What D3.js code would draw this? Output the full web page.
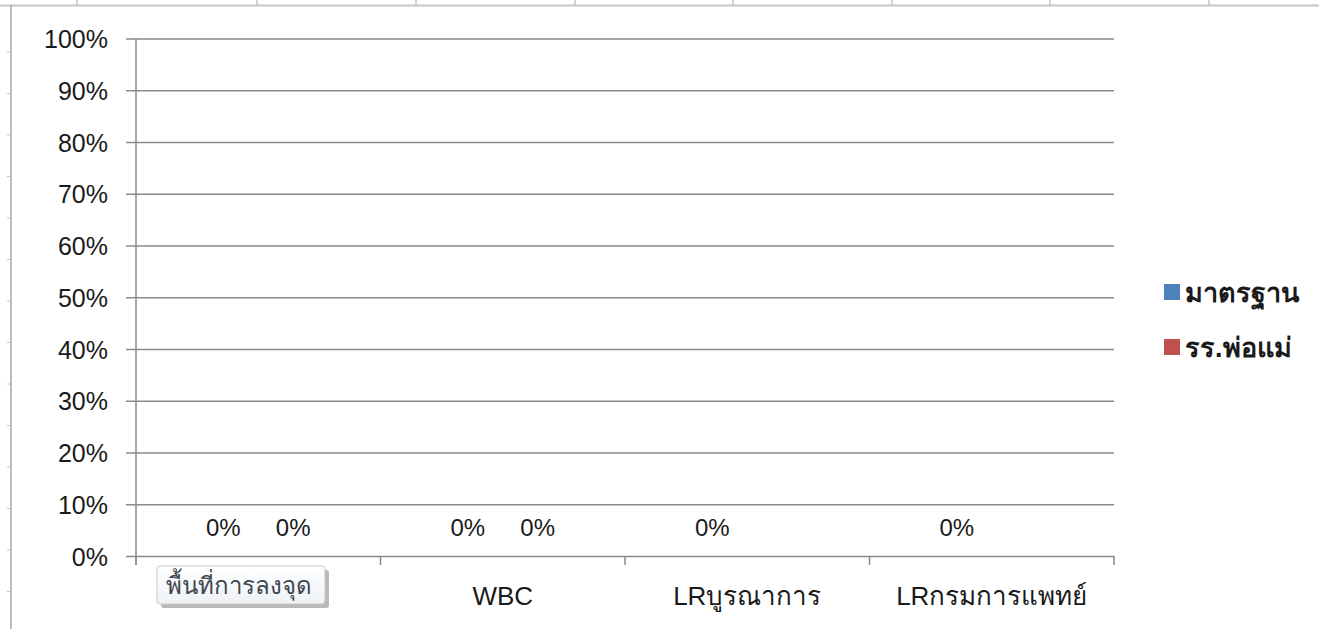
<!DOCTYPE html>
<html>
<head>
<meta charset="utf-8">
<script src="https://cdn.jsdelivr.net/npm/d3@7"></script>
<style>
  html, body { margin: 0; padding: 0; background: #ffffff; }
  svg { display: block; }
  text { font-family: "Liberation Sans", "Noto Sans", sans-serif; fill: #1a1a1a; }
</style>
</head>
<body>
<svg id="chart" width="1319" height="629"></svg>
<script>
// Categories (the first one sits under the hover tip)
const categories = ["", "WBC", "LRบูรณาการ", "LRกรมการแพทย์"];
const seriesNames = ["มาตรฐาน", "รร.พ่อแม่"];
const seriesColors = ["#4F81BD", "#C0504D"];
// Share of each category, per series (null = no value)
const standardValues = [0, 0, 0, 0];
const parentSchoolValues = [0, 0, null, null];
const yTickValues = [0, 0.1, 0.2, 0.3, 0.4, 0.5, 0.6, 0.7, 0.8, 0.9, 1.0];
const hoverTipText = "พื้นที่การลงจุด";

const seriesValues = [standardValues, parentSchoolValues];

const svg = d3.select("#chart");
const W = 1319, H = 629;

// Worksheet cell lines around the embedded chart
const sheet = svg.append("g").attr("stroke", "#c6c6c6").attr("stroke-width", 1.5);
sheet.append("line").attr("x1", 0).attr("x2", W).attr("y1", 5.5).attr("y2", 5.5).attr("stroke-width", 2);
[77, 257, 416, 575, 733, 892, 1050, 1209].forEach(x =>
  sheet.append("line").attr("x1", x).attr("x2", x).attr("y1", 0).attr("y2", 5));
d3.range(14).forEach(i => {
  const y = 52 + i * 41.5;
  sheet.append("line").attr("x1", 7).attr("x2", 10).attr("y1", y).attr("y2", y).attr("stroke-width", 1);
});
// chart frame edge
svg.append("line").attr("x1", 11).attr("x2", 11).attr("y1", 5).attr("y2", H)
  .attr("stroke", "#a6a6a6").attr("stroke-width", 1.5);

// Plot area
const plot = { left: 136, right: 1114, top: 38.5, bottom: 556 };

const x = d3.scaleBand().domain(d3.range(categories.length))
  .range([plot.left, plot.right]).paddingInner(0).paddingOuter(0);
// gap width 150%: bars occupy 2/3.5 of each category
const xs = d3.scaleBand().domain(d3.range(seriesNames.length))
  .range([0, x.bandwidth()]).paddingInner(0).paddingOuter(0.75);
const y = d3.scaleLinear().domain([0, 1]).range([plot.bottom, plot.top]);

const gridColor = "#8a8a8a";

// Horizontal gridlines with outside ticks
const yAxis = d3.axisLeft(y).tickValues(yTickValues).tickSize(-(plot.right - plot.left))
  .tickFormat(d3.format(".0%")).tickPadding(18);
const gy = svg.append("g").attr("transform", `translate(${plot.left},0)`).call(yAxis);
gy.select(".domain").remove();
gy.selectAll(".tick line").attr("stroke", gridColor).attr("stroke-width", 1.5).attr("x1", -10);
gy.selectAll(".tick text").attr("font-size", 25).attr("fill", "#1a1a1a")
  .attr("x", -28).attr("dy", "0.36em");

// Vertical value axis line
svg.append("line").attr("x1", plot.left).attr("x2", plot.left)
  .attr("y1", plot.top).attr("y2", plot.bottom + 9)
  .attr("stroke", gridColor).attr("stroke-width", 1.5);

// Category axis: boundary ticks between categories
const boundaries = d3.range(categories.length + 1).map(i =>
  i < categories.length ? x(i) : x(categories.length - 1) + x.bandwidth());
svg.append("g").selectAll("line").data(boundaries).join("line")
  .attr("x1", d => d).attr("x2", d => d)
  .attr("y1", plot.bottom).attr("y2", plot.bottom + 9)
  .attr("stroke", gridColor).attr("stroke-width", 1.5);

svg.append("g").selectAll("text").data(categories).join("text")
  .attr("x", (d, i) => x(i) + x.bandwidth() / 2)
  .attr("y", 605)
  .attr("text-anchor", "middle")
  .attr("font-size", 26)
  .text(d => d);

// Bars and their value labels
const points = [];
seriesValues.forEach((vals, s) => vals.forEach((v, i) => {
  if (v !== null) points.push({ s, i, v });
}));

svg.append("g").selectAll("rect").data(points).join("rect")
  .attr("x", d => x(d.i) + xs(d.s))
  .attr("width", xs.bandwidth())
  .attr("y", d => y(d.v))
  .attr("height", d => y(0) - y(d.v))
  .attr("fill", d => seriesColors[d.s]);

svg.append("g").selectAll("text").data(points).join("text")
  .attr("x", d => x(d.i) + xs(d.s) + xs.bandwidth() / 2)
  .attr("y", d => y(d.v) - 20)
  .attr("text-anchor", "middle")
  .attr("font-size", 24)
  .text(d => d3.format(".0%")(d.v));

// Legend
const legend = svg.append("g").attr("transform", "translate(1164,0)");
seriesNames.forEach((name, s) => {
  const cy = 292 + s * 55;
  legend.append("rect").attr("x", 0).attr("y", cy - 8).attr("width", 16).attr("height", 16)
    .attr("fill", seriesColors[s]);
  legend.append("text").attr("x", 21).attr("y", cy).attr("dy", "0.36em")
    .attr("font-size", 27).attr("font-weight", "bold").text(name);
});

// Hover tip over the plot area
const defs = svg.append("defs");
const grad = defs.append("linearGradient").attr("id", "tipFill").attr("x1", 0).attr("x2", 0).attr("y1", 0).attr("y2", 1);
grad.append("stop").attr("offset", "0%").attr("stop-color", "#ffffff");
grad.append("stop").attr("offset", "100%").attr("stop-color", "#eef1f6");
const tip = svg.append("g").attr("transform", "translate(157,566)");
tip.append("rect").attr("x", 4).attr("y", 4).attr("width", 168).attr("height", 38).attr("rx", 3)
  .attr("fill", "#8a8a8a").attr("opacity", 0.6);
tip.append("rect").attr("x", 0).attr("y", 0).attr("width", 168).attr("height", 38).attr("rx", 3)
  .attr("fill", "url(#tipFill)").attr("stroke", "#c8c8c8").attr("stroke-width", 1);
tip.append("text").attr("x", 82).attr("y", 19).attr("dy", "0.36em").attr("text-anchor", "middle")
  .attr("font-size", 24).style("fill", "#3f4650").text(hoverTipText);
</script>
</body>
</html>
